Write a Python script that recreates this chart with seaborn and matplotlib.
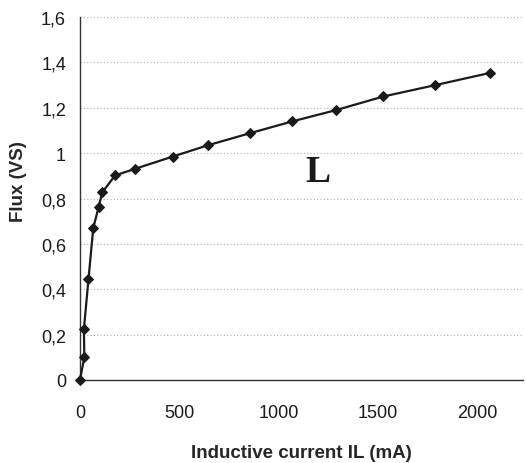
import matplotlib
matplotlib.use('Agg')
import matplotlib.pyplot as plt
from matplotlib.ticker import FuncFormatter, MultipleLocator
import pandas as pd
import seaborn as sns

# Magnetisation curve
current_ma = [0, 22, 20, 43, 67, 94, 112, 177, 278, 467, 645, 856, 1069, 1290, 1528, 1789, 2065]
flux_vs = [0, 0.10, 0.225, 0.445, 0.67, 0.762, 0.827, 0.902, 0.931, 0.985,
           1.035, 1.088, 1.14, 1.19, 1.25, 1.30, 1.354]

x_ticks = [0, 500, 1000, 1500, 2000]

df = pd.DataFrame({'current': current_ma, 'flux': flux_vs})

sns.set_style('white')
plt.rcParams['font.family'] = ['Liberation Sans', 'DejaVu Sans']

fig = plt.figure(figsize=(5.26, 4.64), dpi=100)
ax = fig.add_axes([0.152, 0.179, 0.842, 0.782])

sns.lineplot(data=df, x='current', y='flux', sort=False, ax=ax,
             color='#1a1a1a', linewidth=1.6, marker='D', markersize=5.5,
             markeredgecolor='#1a1a1a', markerfacecolor='#1a1a1a', clip_on=False, zorder=5)

ax.set_xlim(0, 2230)
ax.set_ylim(0, 1.6)
ax.set_xticks(x_ticks)
ax.yaxis.set_major_locator(MultipleLocator(0.2))
ax.yaxis.set_major_formatter(FuncFormatter(lambda v, p: f'{v:.1f}'.rstrip('0').rstrip('.').replace('.', ',')))

ax.grid(axis='y', color='#b0b0b0', linestyle=(0, (1, 2)), linewidth=0.8)
ax.grid(axis='x', visible=False)
sns.despine(ax=ax)
for s in ['left', 'bottom']:
    ax.spines[s].set_color('#333333')
    ax.spines[s].set_linewidth(1.0)

ax.tick_params(axis='both', direction='out', length=4, width=1, color='#333333',
               labelsize=13, colors='#1a1a1a', pad=6)
ax.tick_params(axis='x', pad=13)

ax.set_xlabel('Inductive current IL (mA)', fontsize=13.5, fontweight='bold', labelpad=17)
ax.set_ylabel('Flux (VS)', fontsize=13.5, fontweight='bold')
ax.yaxis.set_label_coords(-0.12, 0.55)

ax.text(1196, 0.92, 'L', fontsize=27, fontweight='bold', family='Liberation Serif',
        ha='center', va='center', color='#1a1a1a')

fig.savefig('out.png', dpi=100)
